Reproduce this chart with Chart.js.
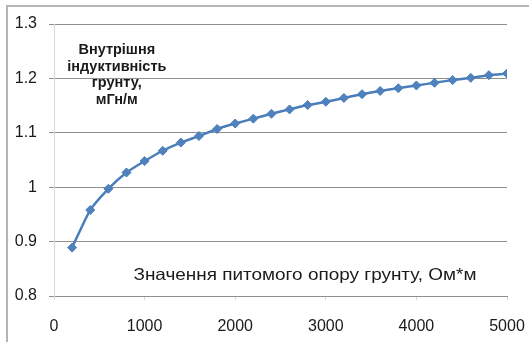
<!DOCTYPE html>
<html><head><meta charset="utf-8">
<script src="https://cdn.jsdelivr.net/npm/chart.js@4"></script>
<style>
html,body{margin:0;padding:0;background:#fff;}
#wrap{position:relative;width:529px;height:342px;}
#frame{position:absolute;left:6px;top:5px;right:-10px;bottom:-10px;border-left:2px solid #b5b5b5;border-top:2px solid #b5b5b5;pointer-events:none;}
canvas{position:absolute;left:0;top:0;}
</style></head>
<body>
<div id="wrap"><canvas id="c" width="529" height="342"></canvas><div id="frame"></div></div>
<script>
const resistivity = [200,400,600,800,1000,1200,1400,1600,1800,2000,2200,2400,2600,2800,3000,3200,3400,3600,3800,4000,4200,4400,4600,4800,5000];
const inductance = [0.889,0.958,0.997,1.027,1.048,1.067,1.082,1.094,1.107,1.117,1.126,1.135,1.143,1.151,1.157,1.164,1.171,1.177,1.182,1.187,1.192,1.197,1.201,1.206,1.209];
const yTitleLines = ['Внутрішня','індуктивність','грунту,','мГн/м'];
const xTitle = 'Значення питомого опору грунту, Ом*м';

const FONT = "'Liberation Sans', Arial, sans-serif";

const annot = {
  id:'annot',
  afterDraw(chart){
    const {ctx, scales:{x,y}} = chart;
    ctx.save();
    ctx.fillStyle = '#1a1a1a';
    ctx.textAlign = 'center';
    ctx.textBaseline = 'middle';
    ctx.font = "bold 14.5px " + FONT;
    const cx = x.getPixelForValue(693);
    const y0 = y.getPixelForValue(1.252);
    yTitleLines.forEach((t,i)=>ctx.fillText(t, cx, y0 + i*16.6));
    ctx.font = "16.5px " + FONT;
    const w = ctx.measureText(xTitle).width;
    const tx = x.getPixelForValue(2770), ty = y.getPixelForValue(0.837);
    ctx.translate(tx, ty);
    ctx.scale(343 / w, 1);
    ctx.fillText(xTitle, 0, 0);
    ctx.restore();
  }
};

new Chart(document.getElementById('c'), {
  type:'line',
  data:{
    datasets:[{
      data: resistivity.map((v,i)=>({x:v,y:inductance[i]})),
      borderColor:'#4A7EBB',
      backgroundColor:'#4F81BD',
      borderWidth:2.5,
      pointStyle:'rectRot',
      pointRadius:4.5,
      pointBorderWidth:1,
      pointBorderColor:'#4A7EBB',
      tension:0.2,
      fill:false
    }]
  },
  options:{
    responsive:false,
    animation:false,
    devicePixelRatio:1,
    layout:{padding:{top:24,right:22,left:0,bottom:0}},
    plugins:{legend:{display:false},tooltip:{enabled:false}},
    scales:{
      x:{
        type:'linear', min:0, max:5000,
        afterFit(s){ s.height = 46; s.paddingRight = 0; s.paddingLeft = 0; },
        ticks:{stepSize:1000, color:'#1a1a1a', font:{family:FONT,size:16}, padding:17, maxRotation:0,
          callback:v=>String(v)},
        grid:{drawOnChartArea:false, drawTicks:true, tickLength:4, tickColor:'#d8d8d8', color:'#d8d8d8'},
        border:{display:true, color:'#8f8f8f', width:1}
      },
      y:{
        min:0.8, max:1.3,
        afterFit(s){ s.width = 54; s.paddingTop = 0; s.paddingBottom = 0; },
        ticks:{stepSize:0.1, color:'#1a1a1a', font:{family:FONT,size:16}, padding:12,
          callback:v=>String(Math.round(v*10)/10)},
        grid:{color:'#8f8f8f', tickLength:5, tickColor:'#8f8f8f', lineWidth:1},
        border:{display:true, color:'#d8d8d8'}
      }
    }
  },
  plugins:[annot]
});
</script>
</body></html>
